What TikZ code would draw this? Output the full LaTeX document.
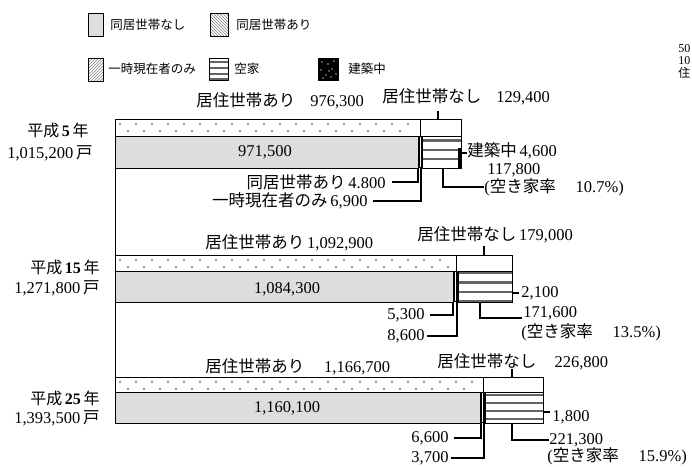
\documentclass[tikz,border=0pt]{standalone}
\usepackage{fontspec}
\setmainfont{Liberation Serif}
\newfontfamily\jp{Noto Sans CJK JP}
\usetikzlibrary{patterns}
\definecolor{lgray}{RGB}{221,221,221}
\definecolor{dotgray}{RGB}{110,110,110}
\definecolor{band}{RGB}{100,100,100}
% #1 top, #2 mid, #3 bottom, #4 box start (top row), #5 gray end, #6 stripe start, #7 right, #8 band list, #9 last dot x
\newcommand\mybar[9]{%
  \fill[white] (115,#1) rectangle (#7,#2);
  \foreach \xx in {120,136,...,#9} {\fill[dotgray] (\xx,#1+5) circle (1.1);}
  \foreach \xx in {128,144,...,#9} {\fill[dotgray] (\xx,#1+12) circle (1.1);}
  \draw (115,#1) rectangle (#7,#2);
  \draw (#4,#1) -- (#4,#2);
  \fill[lgray] (115,#2) rectangle (#5,#3);
  \draw (115,#2) rectangle (#5,#3);
  \fill[black] (#5,#2) rectangle (#6,#3);
  \draw[white, line width=0.6pt] ({(#5+#6)/2},#2+1) -- ({(#5+#6)/2},#3-1);
  \fill[white] (#6,#2) rectangle (#7,#3);
  \foreach \yy in {#8} {\fill[band] (#6,\yy) rectangle (#7,\yy+2.6);}
  \draw (#6,#2) rectangle (#7,#3);
}
\begin{document}
\begin{tikzpicture}[x=1pt,y=-1pt,line width=0.8pt,
  lbl/.style={inner sep=0pt, font=\fontsize{16.5}{18}\selectfont},
  yr/.style={inner sep=0pt, font=\fontsize{16}{18}\selectfont},
  leg/.style={inner sep=0pt, font=\fontsize{12.5}{14}\selectfont\jp},
  cut/.style={inner sep=0pt, font=\fontsize{12}{12}\selectfont},
  ldr/.style={draw, line width=1.1pt},
  legbox/.style={draw=black, line width=0.8pt}]
\useasboundingbox (0,0) rectangle (692,466);

% ---------- legend ----------
\node[legbox, fill=lgray, minimum width=15pt, minimum height=23pt, inner sep=0pt, anchor=north west] (k1) at (88,13) {};
\node[leg, anchor=west] (k1t) at (110,25) {同居世帯なし};
\node[legbox, pattern=north west lines, pattern color=gray, minimum width=18pt, minimum height=23pt, inner sep=0pt, anchor=north west] (k2) at (210,13) {};
\node[leg, anchor=west] (k2t) at (236,25) {同居世帯あり};
\node[legbox, pattern=north east lines, pattern color=gray, minimum width=15pt, minimum height=23pt, inner sep=0pt, anchor=north west] (k3) at (88,58) {};
\node[leg, anchor=west] (k3t) at (108,69) {一時現在者のみ};
\node[legbox, minimum width=19pt, minimum height=22pt, inner sep=0pt, anchor=north west] (k4) at (209,58) {};
\foreach \yy in {61,67,73,78} {\fill[band] (209,\yy) rectangle (228,\yy+2.2);}
\draw[line width=0.8pt] (209,58) rectangle (228,80);
\node[leg, anchor=west] (k4t) at (234,69) {空家};
\node[legbox, fill=black, minimum width=20pt, minimum height=22pt, inner sep=0pt, anchor=north west] (k5) at (318,58) {};
\foreach \xx/\yy in {322/62,328/64,334/61,321/70,326/75,332/69,336/74,323/78,331/77,329/71} {\fill[gray!70] (\xx,\yy) circle (0.8);}
\node[leg, anchor=west] (k5t) at (348,69) {建築中};

% cut-off text at right edge
\node[cut, anchor=west] (c1) at (678,49) {50};
\node[cut, anchor=west] (c2) at (678,61) {10};
\node[cut, anchor=west, font=\fontsize{12}{12}\selectfont\jp] (c3) at (678,73) {住};

% ---------- left vertical line ----------
\coordinate (v1) at (115.5,168);
\coordinate (v2) at (115.5,377);
\draw[line width=1.6pt] (v1) -- (v2);

% ---------- bar 1 : H5 ----------
\mybar{119}{136}{168}{420}{418}{422}{461}{139,148.5,157.5}{414}
\fill[black] (457.6,148) rectangle (461,168);
\node[lbl, anchor=west] (b1a) at (196,101) {{\jp 居住世帯あり}\hspace{0.9em}976,300};
\node[lbl, anchor=west] (b1n) at (382,97) {{\jp 居住世帯なし}\hspace{0.9em}129,400};
\coordinate (b1nt) at (438,119);
\draw[ldr] (438,111) -- (b1nt);
\node[lbl] (b1g) at (265,152) {971,500};
\node[yr, anchor=east] (b1y) at (89,130) {{\jp 平成}\,\textbf{5}\,{\jp 年}};
\node[lbl, anchor=east] (b1t) at (93,153) {1,015,200\,{\jp 戸}};
\node[lbl, anchor=west] (b1k) at (467,151) {{\jp 建築中}\,4,600};
\coordinate (b1kp) at (461,153);
\draw[ldr] (b1kp) -- (b1kp -| b1k.west);
\node[lbl, anchor=west] (b1v) at (487,170) {117,800};
\node[lbl, anchor=west] (b1r) at (484,187) {({\jp 空き家率}\hspace{1.2em}10.7\%)};
\coordinate (b1vp) at (443,168);
\draw[ldr] (b1vp) |- (b1r.west);
\node[lbl, anchor=east] (b1d) at (386,182) {{\jp 同居世帯あり}\,4.800};
\coordinate (b1dp) at (418,168);
\draw[ldr] ([xshift=6pt]b1d.east) -| (b1dp);
\node[lbl, anchor=east] (b1i) at (368,201) {{\jp 一時現在者のみ}\,6,900};
\coordinate (b1ip) at (421,168);
\draw[ldr] ([xshift=5pt]b1i.east) -| (b1ip);

% ---------- bar 2 : H15 ----------
\mybar{255}{271}{302}{456}{453}{458}{512}{271.5,281,290.5,299.5}{450}
\node[lbl, anchor=west] (b2a) at (205,243) {{\jp 居住世帯あり}\,1,092,900};
\node[lbl, anchor=west] (b2n) at (417,235) {{\jp 居住世帯なし}\,179,000};
\coordinate (b2nt) at (484,255);
\draw[ldr] (484,246) -- (b2nt);
\node[lbl] (b2g) at (287,289) {1,084,300};
\node[yr, anchor=east] (b2y) at (100,267) {{\jp 平成}\,\textbf{15}\,{\jp 年}};
\node[lbl, anchor=east] (b2t) at (100,288) {1,271,800\,{\jp 戸}};
\node[lbl, anchor=west] (b2k) at (521,293) {2,100};
\coordinate (b2kp) at (512,293);
\draw[ldr] (b2kp) -- ([xshift=-2pt]b2k.west);
\node[lbl, anchor=west] (b2v) at (523,313) {171,600};
\node[lbl, anchor=west] (b2r) at (521,332) {({\jp 空き家率}\hspace{1.2em}13.5\%)};
\coordinate (b2vp) at (480,302);
\coordinate (b2ve) at (522,318);
\draw[ldr] (b2vp) |- (b2ve);
\node[lbl, anchor=east] (b2d) at (425,315) {5,300};
\coordinate (b2dp) at (453,302);
\draw[ldr] ([xshift=5pt]b2d.east) -| (b2dp);
\node[lbl, anchor=east] (b2i) at (425,336) {8,600};
\coordinate (b2ip) at (457,302);
\draw[ldr] ([xshift=2pt]b2i.east) -| (b2ip);

% ---------- bar 3 : H25 ----------
\mybar{377}{392}{423}{483}{480}{485}{543}{393.5,401.5,409.5,417.5}{476}
\node[lbl, anchor=west] (b3a) at (205,367) {{\jp 居住世帯あり}\hspace{1.2em}1,166,700};
\node[lbl, anchor=west] (b3n) at (437,362) {{\jp 居住世帯なし}\hspace{1.1em}226,800};
\coordinate (b3nt) at (512,377);
\draw[ldr] (512,369) -- (b3nt);
\node[lbl] (b3g) at (287,408) {1,160,100};
\node[yr, anchor=east] (b3y) at (100,398) {{\jp 平成}\,\textbf{25}\,{\jp 年}};
\node[lbl, anchor=east] (b3t) at (100,418) {1,393,500\,{\jp 戸}};
\node[lbl, anchor=west] (b3k) at (552,417) {1,800};
\coordinate (b3kp) at (543,412);
\draw[ldr] (b3kp) -- (550,412);
\node[lbl, anchor=west] (b3v) at (549,440) {221,300};
\node[lbl, anchor=west] (b3r) at (547,456) {({\jp 空き家率}\hspace{1.2em}15.9\%)};
\coordinate (b3vp) at (512,423);
\draw[ldr] (b3vp) |- (b3v.west);
\node[lbl, anchor=east] (b3d) at (449,438) {6,600};
\coordinate (b3dp) at (481,423);
\draw[ldr] ([xshift=5pt]b3d.east) -| (b3dp);
\node[lbl, anchor=east] (b3i) at (449,458) {3,700};
\coordinate (b3ip) at (484,423);
\draw[ldr] ([xshift=2pt]b3i.east) -| (b3ip);
\end{tikzpicture}
\end{document}
